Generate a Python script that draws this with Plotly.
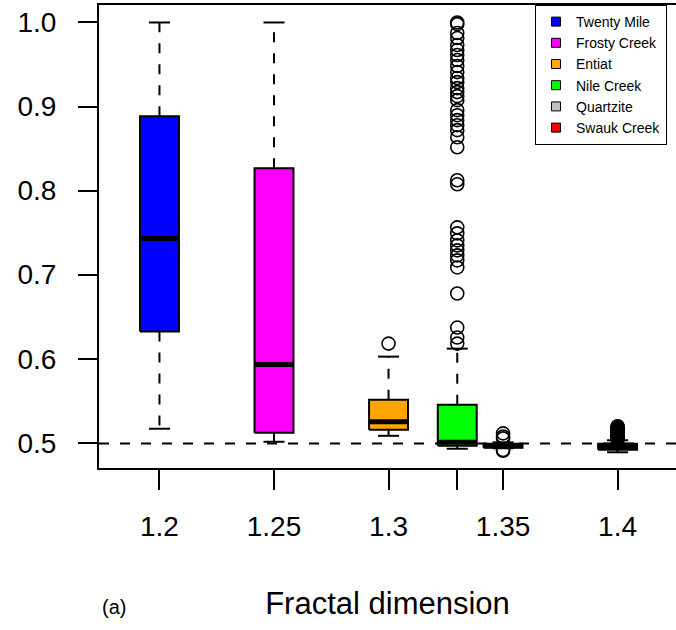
import plotly.graph_objects as go

# ---- data ----
names = ["Twenty Mile", "Frosty Creek", "Entiat", "Nile Creek", "Quartzite", "Swauk Creek"]
colors = ["#0000FF", "#FF00FF", "#FFA500", "#00FF00", "#BEBEBE", "#FF0000"]
positions = [1.2, 1.25, 1.3, 1.33, 1.35, 1.4]
tick_labels = ["1.2", "1.25", "1.3", "", "1.35", "1.4"]

lower_whisker = [0.5167, 0.5012, 0.5083, 0.4929, 0.4935, 0.4887]
q1 = [0.6323, 0.5119, 0.5155, 0.4964, 0.4940, 0.4917]
median = [0.7431, 0.5930, 0.5250, 0.5005, 0.4964, 0.4952]
q3 = [0.8886, 0.8266, 0.5513, 0.5453, 0.4988, 0.4988]
upper_whisker = [1.0, 1.0, 0.6025, 0.6120, 0.5005, 0.5030]

outliers = [
    [],
    [],
    [0.6180],
    [1.0, 0.998, 0.9875, 0.9815, 0.9732, 0.9672, 0.9613, 0.9553, 0.9482, 0.941,
     0.9339, 0.9291, 0.9219, 0.9172, 0.9124, 0.9076, 0.8957, 0.8897, 0.8838,
     0.8778, 0.8719, 0.8635, 0.8516, 0.8123, 0.8075, 0.7563, 0.7491, 0.7408,
     0.7348, 0.7289, 0.7229, 0.717, 0.7086, 0.6776, 0.6371, 0.6252, 0.618],
    [0.5112, 0.5075, 0.5052, 0.4915, 0.4905],
    [0.5197, 0.5190, 0.5182, 0.5176, 0.5169, 0.5161, 0.5155, 0.5148, 0.5140,
     0.5133, 0.5127, 0.5119, 0.5112, 0.5104, 0.5098, 0.5091, 0.5083, 0.5077,
     0.5070, 0.5062, 0.5055, 0.5049, 0.5042],
]

ref_line = 0.4990
x_title = "Fractal dimension"
panel_label = "(a)"

# ---- style ----
FONT = "Liberation Sans, Arial, Helvetica, sans-serif"
box_half = 0.0085
cap_half = 0.0046
x_range = [1.1736, 1.4255]
y_range = [0.4700, 1.0208]

fig = go.Figure()

# reference dashed line
fig.add_trace(go.Scatter(x=x_range, y=[ref_line, ref_line], mode="lines",
                         line=dict(color="black", width=2, dash="10px,11px"),
                         showlegend=False, hoverinfo="skip"))

for i, nm in enumerate(names):
    p = positions[i]
    # whiskers (dashed)
    fig.add_trace(go.Scatter(x=[p, p, None, p, p],
                             y=[q3[i], upper_whisker[i], None, q1[i], lower_whisker[i]],
                             mode="lines", line=dict(color="black", width=2, dash="10px,11px"),
                             showlegend=False, hoverinfo="skip"))
    # caps
    fig.add_trace(go.Scatter(x=[p - cap_half, p + cap_half, None, p - cap_half, p + cap_half],
                             y=[upper_whisker[i], upper_whisker[i], None, lower_whisker[i], lower_whisker[i]],
                             mode="lines", line=dict(color="black", width=2),
                             showlegend=False, hoverinfo="skip"))
    # box
    fig.add_trace(go.Scatter(x=[p - box_half, p + box_half, p + box_half, p - box_half, p - box_half],
                             y=[q1[i], q1[i], q3[i], q3[i], q1[i]],
                             mode="lines", fill="toself", fillcolor=colors[i],
                             line=dict(color="black", width=2),
                             showlegend=False, hoverinfo="skip"))
    # median
    fig.add_trace(go.Scatter(x=[p - box_half, p + box_half], y=[median[i], median[i]],
                             mode="lines", line=dict(color="black", width=5),
                             showlegend=False, hoverinfo="skip"))
    # outliers
    if outliers[i]:
        fig.add_trace(go.Scatter(x=[p] * len(outliers[i]), y=outliers[i], mode="markers",
                                 marker=dict(symbol="circle-open", size=13, color="black",
                                             line=dict(width=1.6, color="black")),
                                 showlegend=False, hoverinfo="skip"))

# legend entries
for i, nm in enumerate(names):
    fig.add_trace(go.Scatter(x=[None], y=[None], mode="markers", name=nm,
                             marker=dict(symbol="square", size=9, color=colors[i],
                                         line=dict(color="black", width=1))))

fig.update_layout(
    width=676, height=630,
    margin=dict(l=99, r=0, t=5, b=162),
    paper_bgcolor="white", plot_bgcolor="white",
    font=dict(family=FONT, color="black"),
    showlegend=True,
    legend=dict(x=(535 - 99) / 577, xanchor="left", y=1, yanchor="top",
                bordercolor="black", borderwidth=1, bgcolor="white",
                font=dict(size=14, family=FONT), tracegroupgap=0),
    xaxis=dict(range=x_range, tickmode="array", tickvals=positions, ticktext=tick_labels,
               ticks="outside", ticklen=20, tickwidth=1.5, tickcolor="black",
               showline=True, linecolor="black", linewidth=2, mirror=True,
               showgrid=False, zeroline=False,
               tickfont=dict(size=28, family=FONT), ticklabelstandoff=12,
               title=dict(text=x_title, font=dict(size=31, family=FONT), standoff=52)),
    yaxis=dict(range=y_range, tickmode="array",
               tickvals=[0.5, 0.6, 0.7, 0.8, 0.9, 1.0],
               ticktext=["0.5", "0.6", "0.7", "0.8", "0.9", "1.0"],
               ticks="outside", ticklen=19, tickwidth=1.5, tickcolor="black",
               showline=True, linecolor="black", linewidth=2, mirror=False,
               showgrid=False, zeroline=False,
               tickfont=dict(size=28, family=FONT), ticklabelstandoff=16),
    annotations=[dict(text=panel_label, xref="paper", yref="paper", x=(100 - 99) / 577,
                      xanchor="left", y=-(607 - 468) / 463, yanchor="middle",
                      showarrow=False, font=dict(size=20, family=FONT))],
)

fig.write_html("out.html")
